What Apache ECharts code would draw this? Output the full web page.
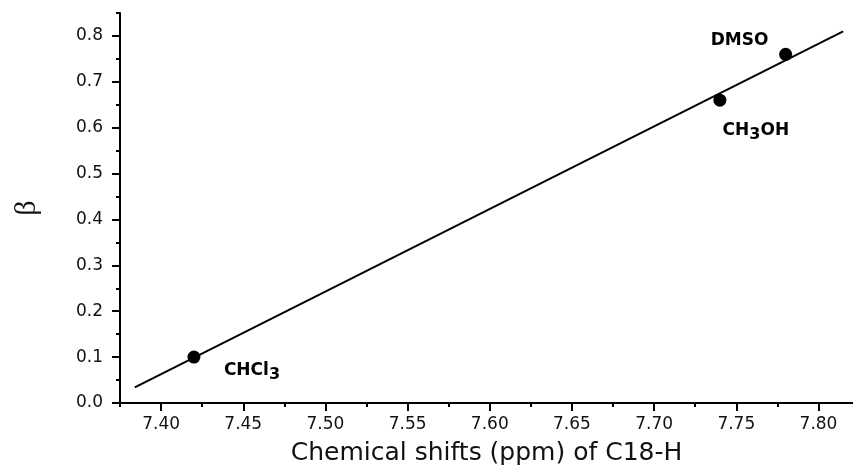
<!DOCTYPE html>
<html>
	<head>
		<meta charset="utf-8">
		<title></title>
		<script src="https://cdn.jsdelivr.net/npm/echarts@6/dist/echarts.min.js"></script>
		<style>
			html, body { margin: 0; padding: 0; background: #fff; }
		</style>
	</head>
	<body>
		<div id="my" style="width: 853px;height: 466px;"></div>

		<script>
			var myChart = echarts.init(document.getElementById('my'));

			// solvents and measured points
			var solvents = ['CHCl3', 'CH3OH', 'DMSO'];
			var solventLabels = ['{a|CHCl}{s|3}', '{a|CH}{s|3}{a|OH}', '{a|DMSO}'];
			var shifts = [7.42, 7.74, 7.78];
			var betas = [0.10, 0.66, 0.76];

			// fitted line, ends
			var fitLine = [[7.384, 0.034], [7.815, 0.81]];

			// tick labels
			var xTicks = [7.40, 7.45, 7.50, 7.55, 7.60, 7.65, 7.70, 7.75, 7.80];
			var xMinorTicks = [7.375, 7.425, 7.475, 7.525, 7.575, 7.625, 7.675, 7.725, 7.775];
			var yTicks = [0, 0.1, 0.2, 0.3, 0.4, 0.5, 0.6, 0.7, 0.8];
			var yMinorTicks = [0.05, 0.15, 0.25, 0.35, 0.45, 0.55, 0.65, 0.75, 0.85];

			var labelOffset = {//label position relative to point
				'CHCl3': [58, 13],
				'CH3OH': [36, 30],
				'DMSO': [-46, -14]
			};

			var points = [];
			for (var i = 0; i < solvents.length; i++) {
				points.push({
					name: solvents[i],
					value: [shifts[i], betas[i]],
					label: {
						show: true,
						position: 'inside',
						offset: labelOffset[solvents[i]],
						formatter: solventLabels[i]
					}
				});
			}

			var xMin = 7.375, xMax = 7.821, yMin = 0, yMax = 0.85;
			var tickFont = { fontFamily: 'DejaVu Sans', fontSize: 17, color: '#111' };

			var option = {
				backgroundColor: '#fff',
				animation: false,
				grid: {
					left: 120,
					right: 0,
					top: 13,
					bottom: 63,
					outerBoundsMode: 'none',
					containLabel: false
				},
				xAxis: [
					{
						type: 'value',
						min: xMin,
						max: xMax,
						position: 'bottom',
						name: 'Chemical shifts (ppm) of C18-H',
						nameLocation: 'middle',
						nameGap: 38,
						nameTextStyle: { fontFamily: 'DejaVu Sans', fontSize: 25, color: '#111' },
						axisLine: { show: true, lineStyle: { color: '#000', width: 2 } },
						axisTick: { show: true, customValues: xTicks, length: 8, lineStyle: { color: '#000', width: 2 } },
						axisLabel: Object.assign({
							customValues: xTicks,
							margin: 13,
							formatter: function (v) { return v.toFixed(2); }
						}, tickFont),
						splitLine: { show: false }
					},
					{//minor ticks
						type: 'value',
						min: xMin,
						max: xMax,
						position: 'bottom',
						axisLine: { show: false },
						axisTick: { show: true, customValues: xMinorTicks, length: 4, lineStyle: { color: '#000', width: 2 } },
						axisLabel: { show: false },
						splitLine: { show: false }
					}
				],
				yAxis: [
					{
						type: 'value',
						min: yMin,
						max: yMax,
						position: 'left',
						name: 'β',
						nameLocation: 'middle',
						nameGap: 78,
						nameTextStyle: { fontFamily: 'Liberation Serif', fontSize: 30, color: '#111' },
						axisLine: { show: true, lineStyle: { color: '#000', width: 2 } },
						axisTick: { show: true, customValues: yTicks, length: 8, lineStyle: { color: '#000', width: 2 } },
						axisLabel: Object.assign({
							customValues: yTicks,
							margin: 17,
							formatter: function (v) { return v.toFixed(1); }
						}, tickFont),
						splitLine: { show: false }
					},
					{//minor ticks
						type: 'value',
						min: yMin,
						max: yMax,
						position: 'left',
						axisLine: { show: false },
						axisTick: { show: true, customValues: yMinorTicks, length: 4, lineStyle: { color: '#000', width: 2 } },
						axisLabel: { show: false },
						splitLine: { show: false }
					}
				],
				series: [
					{
						type: 'line',
						data: fitLine,
						showSymbol: false,
						lineStyle: { color: '#000', width: 2 },
						z: 2
					},
					{
						type: 'scatter',
						data: points,
						symbolSize: 13,
						itemStyle: { color: '#000', opacity: 1 },
						label: {
							rich: {
								a: { fontFamily: 'DejaVu Sans', fontWeight: 'bold', fontSize: 17, color: '#000', lineHeight: 19 },
								s: { fontFamily: 'DejaVu Sans', fontWeight: 'bold', fontSize: 16, color: '#000', padding: [9, 0, 0, 0] }
							}
						},
						z: 3
					}
				]
			};

			myChart.setOption(option);
		</script>
	</body>
</html>
